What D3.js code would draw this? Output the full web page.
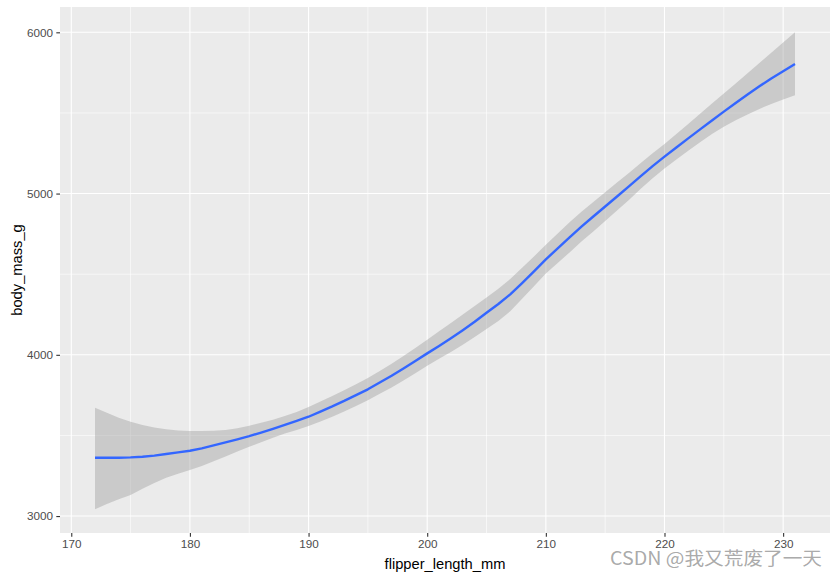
<!DOCTYPE html>
<html>
<head>
<meta charset="utf-8">
<script src="https://cdn.jsdelivr.net/npm/d3@7"></script>
<style>
  html, body { margin: 0; padding: 0; background: #ffffff; }
  svg { display: block; }
</style>
</head>
<body>
<svg id="chart" width="838" height="578"></svg>
<script>
// ---- data ----
const flipperLength = [172,173,174,175,176,177,178,179,180,181,182,183,184,185,186,187,188,189,190,191,192,193,194,195,196,197,198,199,200,201,202,203,204,205,206,207,208,209,210,211,212,213,214,215,216,217,218,219,220,221,222,223,224,225,226,227,228,229,230,231];
const fitMass = [3362,3362,3362,3364,3368,3375,3385,3395,3405,3420,3438,3457,3476,3496,3518,3541,3565,3590,3616,3648,3680,3714,3750,3786,3828,3870,3915,3962,4009,4055,4103,4153,4205,4261,4315,4375,4445,4518,4592,4660,4728,4795,4858,4920,4982,5045,5108,5170,5229,5286,5342,5398,5453,5508,5562,5614,5665,5714,5758,5803];
const upperMass = [3672,3640,3610,3585,3565,3550,3538,3531,3528,3528,3529,3533,3545,3560,3578,3598,3620,3646,3676,3710,3744,3780,3818,3857,3900,3945,3992,4042,4094,4146,4198,4250,4302,4355,4410,4470,4540,4610,4682,4752,4822,4888,4948,5008,5068,5128,5190,5250,5308,5370,5432,5495,5558,5620,5683,5746,5810,5873,5937,6000];
const lowerMass = [3043,3075,3104,3130,3170,3205,3238,3262,3285,3310,3340,3370,3400,3430,3458,3486,3512,3534,3558,3586,3616,3648,3683,3719,3758,3798,3840,3886,3932,3976,4018,4063,4110,4160,4210,4270,4348,4425,4505,4570,4635,4702,4765,4830,4895,4960,5030,5095,5155,5212,5265,5318,5370,5415,5455,5490,5525,5555,5583,5610];
const xMajorTicks = [170,180,190,200,210,220,230];
const xMinorTicks = [175,185,195,205,215,225];
const yMajorTicks = [3000,4000,5000,6000];
const yMinorTicks = [3500,4500,5500];
const xTitle = "flipper_length_mm";
const yTitle = "body_mass_g";
const watermark = "CSDN @我又荒废了一天";

const data = flipperLength.map((x, i) => ({x, y: fitMass[i], lo: lowerMass[i], hi: upperMass[i]}));

// ---- layout ----
const panel = {left: 60, top: 7, right: 830, bottom: 533};
const svg = d3.select("#chart");
const font = "'Liberation Sans', Arial, sans-serif";

const x = d3.scaleLinear().domain([169.05, 233.95]).range([panel.left, panel.right]);
const y = d3.scaleLinear().domain([2895, 6157]).range([panel.bottom, panel.top]);

// panel background
svg.append("rect")
  .attr("x", panel.left).attr("y", panel.top)
  .attr("width", panel.right - panel.left).attr("height", panel.bottom - panel.top)
  .attr("fill", "#EBEBEB");

const grid = svg.append("g");
// minor grid
grid.selectAll(".xmin").data(xMinorTicks).join("line")
  .attr("x1", d => x(d)).attr("x2", d => x(d))
  .attr("y1", panel.top).attr("y2", panel.bottom)
  .attr("stroke", "#FFFFFF").attr("stroke-width", 0.6);
grid.selectAll(".ymin").data(yMinorTicks).join("line")
  .attr("y1", d => y(d)).attr("y2", d => y(d))
  .attr("x1", panel.left).attr("x2", panel.right)
  .attr("stroke", "#FFFFFF").attr("stroke-width", 0.6);
// major grid
grid.selectAll(".xmaj").data(xMajorTicks).join("line")
  .attr("x1", d => x(d)).attr("x2", d => x(d))
  .attr("y1", panel.top).attr("y2", panel.bottom)
  .attr("stroke", "#FFFFFF").attr("stroke-width", 1.1);
grid.selectAll(".ymaj").data(yMajorTicks).join("line")
  .attr("y1", d => y(d)).attr("y2", d => y(d))
  .attr("x1", panel.left).attr("x2", panel.right)
  .attr("stroke", "#FFFFFF").attr("stroke-width", 1.1);

// ribbon
const area = d3.area().x(d => x(d.x)).y0(d => y(d.lo)).y1(d => y(d.hi));
svg.append("path").datum(data)
  .attr("d", area)
  .attr("fill", "#999999").attr("fill-opacity", 0.4);

// fitted line
const line = d3.line().x(d => x(d.x)).y(d => y(d.y));
svg.append("path").datum(data)
  .attr("d", line)
  .attr("fill", "none").attr("stroke", "#3366FF").attr("stroke-width", 2.4)
  .attr("stroke-linejoin", "round");

// axes
const xAxis = d3.axisBottom(x).tickValues(xMajorTicks).tickSize(3.7).tickPadding(3.2).tickFormat(d3.format("d"));
const gx = svg.append("g").attr("transform", `translate(0,${panel.bottom})`).call(xAxis);
gx.select(".domain").remove();
gx.selectAll(".tick line").attr("stroke", "#333333").attr("stroke-width", 1.1);
gx.selectAll(".tick text").attr("fill", "#4D4D4D").attr("font-family", font).attr("font-size", "11.7px");

const yAxis = d3.axisLeft(y).tickValues(yMajorTicks).tickSize(3.7).tickPadding(3.2).tickFormat(d3.format("d"));
const gy = svg.append("g").attr("transform", `translate(${panel.left},0)`).call(yAxis);
gy.select(".domain").remove();
gy.selectAll(".tick line").attr("stroke", "#333333").attr("stroke-width", 1.1);
gy.selectAll(".tick text").attr("fill", "#4D4D4D").attr("font-family", font).attr("font-size", "11.7px");

// axis titles
svg.append("text")
  .attr("x", (panel.left + panel.right) / 2).attr("y", 569)
  .attr("text-anchor", "middle")
  .attr("font-family", font).attr("font-size", "14.7px").attr("fill", "#000000")
  .text(xTitle);
svg.append("text")
  .attr("transform", `translate(21.5,${(panel.top + panel.bottom) / 2}) rotate(-90)`)
  .attr("text-anchor", "middle")
  .attr("font-family", font).attr("font-size", "14.7px").attr("fill", "#000000")
  .text(yTitle);

// watermark
svg.append("text")
  .attr("x", 610).attr("y", 565)
  .attr("font-family", "'Noto Sans CJK SC', 'Noto Sans', sans-serif")
  .attr("font-size", "18px")
  .attr("textLength", 212).attr("lengthAdjust", "spacingAndGlyphs")
  .attr("fill", "#A0A0A0").attr("fill-opacity", 0.9)
  .text(watermark);
</script>
</body>
</html>
